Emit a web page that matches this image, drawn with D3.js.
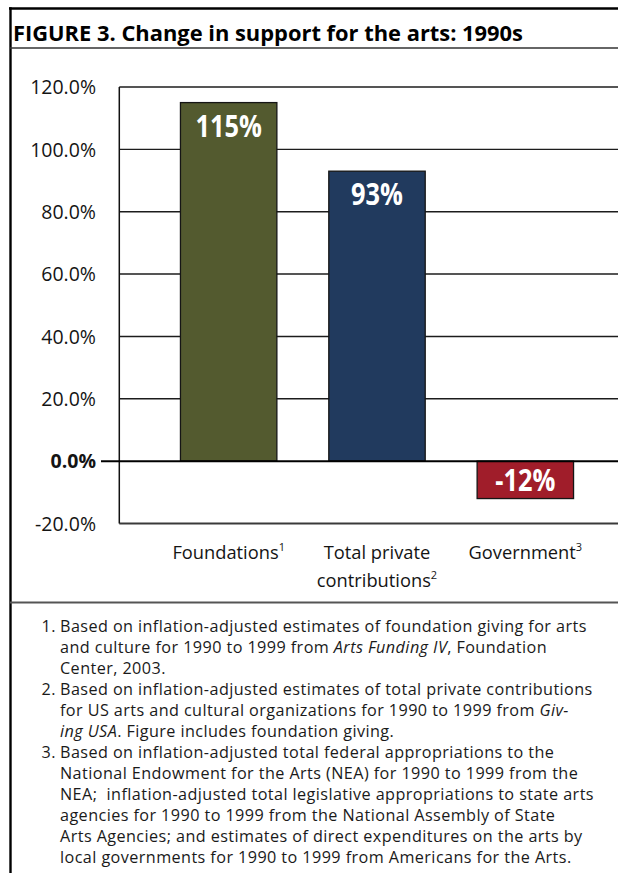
<!DOCTYPE html>
<html>
<head>
<meta charset="utf-8">
<script src="https://cdn.jsdelivr.net/npm/d3@7"></script>
<style>
  html, body { margin: 0; padding: 0; background: #fff; }
  svg { display: block; font-family: "Open Sans", "Noto Sans", sans-serif; }
</style>
</head>
<body>
<svg id="chart" width="618" height="873"></svg>
<script>
// ---- data ----
const categories = ["Foundations", "Total private contributions", "Government"];
const categoryLines = [["Foundations"], ["Total private", "contributions"], ["Government"]];
const noteRefs = ["1", "2", "3"];
const changePct = [115, 93, -12];
const valueLabels = ["115%", "93%", "-12%"];
const yTicks = [-20, 0, 20, 40, 60, 80, 100, 120];

const titleText = "FIGURE 3. Change in support for the arts: 1990s";

const note1 = [
  "Based on inflation-adjusted estimates of foundation giving for arts",
  "and culture for 1990 to 1999 from *Arts Funding IV*, Foundation",
  "Center, 2003."
];
const note2 = [
  "Based on inflation-adjusted estimates of total private contributions",
  "for US arts and cultural organizations for 1990 to 1999 from *Giv-*",
  "*ing USA*. Figure includes foundation giving."
];
const note3 = [
  "Based on inflation-adjusted total federal appropriations to the",
  "National Endowment for the Arts (NEA) for 1990 to 1999 from the",
  "NEA;  inflation-adjusted total legislative appropriations to state arts",
  "agencies for 1990 to 1999 from the National Assembly of State",
  "Arts Agencies; and estimates of direct expenditures on the arts by",
  "local governments for 1990 to 1999 from Americans for the Arts."
];
const footnotes = [note1, note2, note3];

// ---- styling ----
const barFill = ["#535a2f", "#213a5e", "#a01d2a"];
const ink = "#141414";

const svg = d3.select("#chart");

// squeeze a text run horizontally to mimic a condensed face
function condense(sel, k) {
  sel.each(function () {
    const w = this.getComputedTextLength();
    d3.select(this).attr("textLength", w * k).attr("lengthAdjust", "spacingAndGlyphs");
  });
}

// ---- frame ----
svg.append("line").attr("x1", 9).attr("x2", 618).attr("y1", 8.5).attr("y2", 8.5)
  .attr("stroke", "#000").attr("stroke-width", 2.6);
svg.append("line").attr("x1", 10.5).attr("x2", 10.5).attr("y1", 7.2).attr("y2", 873)
  .attr("stroke", "#000").attr("stroke-width", 2.4);
svg.append("line").attr("x1", 10).attr("x2", 618).attr("y1", 48).attr("y2", 48)
  .attr("stroke", "#333").attr("stroke-width", 1.4);
svg.append("line").attr("x1", 10).attr("x2", 618).attr("y1", 602.5).attr("y2", 602.5)
  .attr("stroke", "#555").attr("stroke-width", 2.2);

// ---- title ----
svg.append("text")
  .attr("x", 13).attr("y", 40.5)
  .attr("font-size", 21.5).attr("font-weight", 700).attr("fill", "#000")
  .text(titleText)
  .attr("textLength", 510).attr("lengthAdjust", "spacingAndGlyphs");

// ---- scales ----
const plotLeft = 119.3, plotRight = 618;
const y = d3.scaleLinear().domain([-20, 120]).range([523.5, 87]);
const x = d3.scaleBand().domain(categories).range([154.5, 599.5])
  .paddingInner(0.35).paddingOuter(0.175);

// ---- gridlines ----
const grid = svg.append("g");
grid.selectAll("line.grid")
  .data(yTicks.filter(t => t !== 0))
  .join("line")
  .attr("class", "grid")
  .attr("x1", plotLeft).attr("x2", plotRight)
  .attr("y1", d => y(d)).attr("y2", d => y(d))
  .attr("stroke", d => d === -20 ? "#3a3a3a" : "#1c1c1c")
  .attr("stroke-width", d => d === -20 ? 2 : 1.4);

// plot left edge
svg.append("line")
  .attr("x1", plotLeft).attr("x2", plotLeft)
  .attr("y1", y(120)).attr("y2", y(-20))
  .attr("stroke", "#111").attr("stroke-width", 1.5);

// ---- bars ----
const rows = categories.map((c, i) => ({ cat: c, v: changePct[i], label: valueLabels[i], fill: barFill[i] }));
svg.append("g").selectAll("rect")
  .data(rows)
  .join("rect")
  .attr("x", d => x(d.cat))
  .attr("width", x.bandwidth())
  .attr("y", d => y(Math.max(0, d.v)))
  .attr("height", d => Math.abs(y(d.v) - y(0)))
  .attr("fill", d => d.fill)
  .attr("stroke", "#151515").attr("stroke-width", 1.3);

// zero baseline with its tick stub
svg.append("line")
  .attr("x1", 101).attr("x2", plotRight)
  .attr("y1", y(0)).attr("y2", y(0))
  .attr("stroke", "#000").attr("stroke-width", 2);

// value labels inside the bars
svg.append("g").selectAll("text")
  .data(rows)
  .join("text")
  .attr("x", d => x(d.cat) + x.bandwidth() / 2)
  .attr("y", d => d.v >= 0 ? y(d.v) + 34 : y(0) + 29.5)
  .attr("text-anchor", "middle")
  .attr("font-size", 29.5).attr("font-weight", 700).attr("fill", "#fff")
  .text(d => d.label)
  .call(condense, 0.86);

// ---- y axis labels (plain hyphen for negatives) ----
const fmt = d3.formatLocale({ decimal: ".", thousands: ",", grouping: [3], currency: ["", ""], minus: "-" }).format(".1f");
svg.append("g").selectAll("text")
  .data(yTicks)
  .join("text")
  .attr("x", 96).attr("y", d => y(d) + 7.2)
  .attr("text-anchor", "end")
  .attr("font-size", 19.5)
  .attr("font-weight", d => d === 0 ? 700 : 400)
  .attr("fill", ink)
  .text(d => fmt(d) + "%");

// ---- category labels ----
const catG = svg.append("g");
categories.forEach((c, i) => {
  const lines = categoryLines[i];
  lines.forEach((ln, j) => {
    const t = catG.append("text")
      .attr("x", x(c) + x.bandwidth() / 2)
      .attr("y", 558.5 + j * 28)
      .attr("text-anchor", "middle")
      .attr("font-size", 18.3).attr("fill", ink);
    t.append("tspan").text(ln);
    if (j === lines.length - 1) {
      t.append("tspan").attr("font-size", 11).attr("dy", -8).text(noteRefs[i]);
    }
  });
});

// ---- footnotes ----
const noteG = svg.append("g").attr("font-size", 16.2).attr("fill", "#1a1a1a")
  .attr("letter-spacing", 0.42);
let lineNo = 0;
footnotes.forEach((lines, i) => {
  noteG.append("text")
    .attr("x", 41.5).attr("y", 632 + lineNo * 21)
    .text(noteRefs[i] + ".");
  lines.forEach(ln => {
    const t = noteG.append("text")
      .attr("x", 60).attr("y", 632 + lineNo * 21)
      .style("white-space", "pre");
    ln.split("*").forEach((part, k) => {
      if (!part) return;
      t.append("tspan").attr("font-style", k % 2 ? "italic" : "normal").text(part);
    });
    lineNo++;
  });
});
</script>
</body>
</html>
